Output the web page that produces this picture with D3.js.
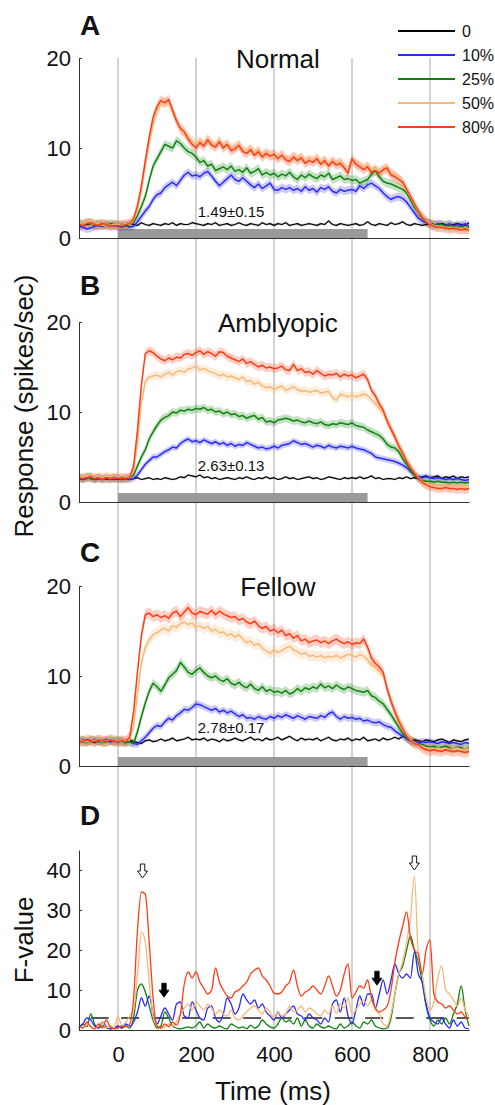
<!DOCTYPE html>
<html><head><meta charset="utf-8">
<script src="https://cdn.jsdelivr.net/npm/d3@7"></script>
<style>
body{margin:0;background:#fff}
svg{display:block}
text{font-family:Arial,"Liberation Sans",Helvetica,sans-serif;fill:#111}
</style>
</head><body>
<svg id="chart" width="495" height="1105"></svg>
<script>
// ---------------- DATA ----------------
const timeMs = d3.range(-100, 901, 10);           // sample times (ms)
const contrastLabels = ["0", "10%", "25%", "50%", "80%"];
const gridTicksMs = [0, 200, 400, 600, 800];
const stimulusMs = [0, 640];
const responseTicks = [0, 10, 20];
const fTicks = [0, 10, 20, 30, 40];
const fThreshold = 3;

// Panel A: Normal (spikes/sec)
const normal0 = [1.5,1.4,1.5,1.6,1.4,1.5,1.3,1.5,1.4,1.5, 1.4,1.5,1.3,1.6,1.5,1.4,1.7,1.5,1.4,1.6, 1.5,1.4,1.6,1.5,1.7,1.4,1.6,1.5,1.5,1.7, 1.6,1.5,1.4,1.6,1.5,1.7,1.4,1.5,1.6,1.4, 1.5,1.7,1.5,1.4,1.6,1.5,1.4,1.7,1.5,1.6, 1.4,1.6,1.5,1.7,1.4,1.5,1.6,1.4,1.5,1.6, 1.5,1.4,1.6,1.5,1.9,1.5,1.4,1.6,1.5,1.4, 1.5,1.6,1.4,1.5,1.8,1.5,1.4,1.6,1.5,1.4, 1.7,1.5,1.6,1.8,1.5,1.4,1.6,1.5,1.4,1.5, 1.6,1.5,1.4,1.6,1.5,1.4,1.5,1.6,1.5,1.4,1.7];
const normal10 = [1.3,1.2,1.0,1.1,1.3,1.4,1.3,1.5,1.3,1.4, 1.3,1.2,1.4,1.2,1.3,1.8,2.4,3.0,3.5,4.3, 4.8,5.0,5.6,5.9,6.2,5.8,6.4,7.0,7.3,6.9, 7.0,6.8,7.2,7.4,6.9,6.3,5.8,6.2,6.6,7.0, 6.5,6.3,6.7,6.3,5.9,5.6,6.0,5.5,5.8,6.1, 5.4,5.3,5.6,5.4,5.6,5.3,5.5,5.2,5.7,5.3, 5.5,5.1,5.6,5.4,5.7,5.2,5.0,5.4,5.2,5.3, 5.4,5.2,5.8,5.5,5.9,6.1,5.8,5.5,5.0,4.6, 4.3,4.5,4.6,4.4,4.0,3.4,2.8,2.2,1.9,1.7, 1.6,1.4,1.6,1.5,1.4,1.6,1.3,1.5,1.4,1.6,1.3];
const normal25 = [1.6,1.5,1.7,1.6,1.4,1.6,1.5,1.4,1.6,1.5, 1.4,1.5,1.3,1.5,1.7,2.5,3.5,4.6,6.4,8.0, 8.8,9.6,10.4,10.2,10.0,10.8,10.5,10.0,9.6,9.4, 9.0,8.4,8.6,8.0,8.2,7.5,7.7,7.9,7.6,8.0, 7.4,7.6,7.3,7.8,7.2,7.4,7.7,7.0,7.3,7.0, 7.2,6.8,7.1,6.9,7.3,6.8,6.5,7.0,6.7,7.1, 6.8,6.6,7.0,6.8,7.2,6.5,6.7,6.9,6.5,6.6, 6.4,6.5,6.1,6.3,6.5,7.1,7.5,6.8,6.3,6.1, 6.0,5.8,5.6,5.4,5.0,4.2,3.4,2.8,2.2,1.8, 1.6,1.5,1.4,1.5,1.3,1.4,1.3,1.2,1.3,1.1,1.2];
const normal50 = [1.6,1.5,1.7,1.6,1.5,1.6,1.4,1.5,1.4,1.5, 1.5,1.4,1.6,1.5,2.0,3.2,5.2,8.0,10.5,12.6, 14.0,14.9,15.2,15.0,14.0,13.2,12.0,11.6,11.2,10.8, 10.5,10.8,10.4,11.0,10.6,10.3,10.8,10.2,10.5,10.0, 10.1,10.4,9.8,9.6,10.0,9.5,9.8,9.2,9.5,9.3, 9.1,9.0,9.3,8.9,8.8,9.1,8.8,9.0,8.6,8.8, 8.6,8.9,8.4,8.7,8.2,8.6,8.3,8.5,8.1,7.9, 8.5,8.3,8.1,7.9,8.0,7.6,7.7,7.4,7.5,7.6, 7.2,7.0,6.6,6.1,5.3,4.5,3.7,2.9,2.3,1.9, 1.6,1.4,1.3,1.3,1.2,1.1,1.2,1.1,1.0,1.1,1.0];
const normal80 = [1.5,1.4,1.6,1.7,1.5,1.4,1.6,1.5,1.3,1.4, 1.4,1.3,1.5,1.6,2.1,3.6,5.8,8.6,11.2,13.4, 14.6,15.3,15.0,15.4,14.2,13.0,12.2,11.8,11.0,10.4, 10.0,10.6,10.2,10.9,10.3,10.1,10.7,10.0,10.4,9.7, 9.9,10.3,9.6,9.4,9.8,9.2,9.6,9.0,9.4,9.1, 9.3,8.8,9.2,8.7,8.5,9.0,8.6,8.9,8.3,8.6, 8.4,8.8,8.2,8.6,8.0,8.5,8.1,8.3,7.8,7.2, 8.8,8.2,7.9,7.6,7.9,7.3,7.5,7.2,7.6,7.8, 7.0,6.8,6.5,6.2,5.4,4.6,3.8,3.0,2.3,1.8, 1.5,1.3,1.2,1.2,1.1,1.0,1.1,1.0,0.9,1.0,0.9];
const normalSem = [0.15, 0.45, 0.5, 0.55, 0.55];

// Panel B: Amblyopic
const amblyopic0 = [2.6,2.5,2.7,2.6,2.5,2.6,2.7,2.5,2.6,2.6, 2.5,2.7,2.6,2.5,2.6,2.7,2.5,2.6,2.7,2.5, 2.6,2.5,2.7,2.6,2.5,2.6,2.8,2.7,3.0,2.9, 2.8,3.0,2.7,2.8,2.6,2.7,2.5,2.6,2.7,2.6, 2.5,2.7,2.6,2.8,2.6,2.5,2.7,2.6,2.8,2.6, 2.7,2.5,2.6,2.8,2.6,2.7,2.5,2.6,2.7,2.8, 2.6,2.7,2.5,2.6,2.8,2.7,2.6,2.5,2.7,2.6, 2.7,2.6,2.8,2.6,2.7,2.9,2.6,2.7,2.5,2.6, 2.6,2.5,2.7,2.6,2.8,2.6,2.7,2.6,2.8,2.9, 2.7,2.8,2.9,2.6,2.8,2.7,2.9,2.6,2.8,2.7,2.8];
const amblyopic10 = [2.6,2.5,2.6,2.7,2.5,2.6,2.5,2.7,2.6,2.5, 2.6,2.5,2.6,2.5,2.6,3.0,3.6,4.2,4.6,5.0, 5.0,5.3,5.6,5.8,6.1,6.0,6.5,6.8,7.0,6.7, 6.8,6.6,6.9,6.7,6.5,6.7,6.4,6.6,6.3,6.5, 6.2,6.4,6.3,6.6,6.4,6.2,6.0,6.1,5.9,6.0, 6.2,6.0,6.3,6.4,6.5,6.8,6.6,6.4,6.5,6.3, 6.1,6.3,6.2,6.0,6.3,6.1,6.0,6.2,6.1,6.0, 6.2,6.0,5.9,5.8,5.6,5.4,5.0,4.9,4.8,4.7, 4.6,4.5,4.3,4.1,3.8,3.4,3.0,2.8,2.7,2.8, 2.7,2.6,2.7,2.6,2.5,2.6,2.5,2.6,2.5,2.4,2.5];
const amblyopic25 = [2.7,2.6,2.8,2.6,2.5,2.7,2.6,2.6,2.5,2.7, 2.6,2.5,2.6,2.7,3.0,4.0,5.0,5.8,7.0,7.8, 8.5,9.1,9.4,9.6,10.0,9.9,10.2,10.1,10.3,10.2, 10.4,10.3,10.5,10.2,10.3,10.0,10.1,9.8,10.0,9.7, 9.8,9.5,9.6,9.3,9.5,9.6,9.2,9.4,8.9,9.0, 8.8,9.1,9.2,9.3,9.2,9.0,9.1,8.9,8.8,9.0, 8.8,8.7,8.9,8.6,8.5,8.7,8.6,8.8,8.7,8.6, 8.8,8.5,8.4,8.3,8.0,7.8,7.6,7.4,7.0,6.4, 6.1,6.0,5.6,4.8,4.2,3.5,3.0,2.6,2.4,2.3, 2.3,2.2,2.3,2.2,2.2,2.1,2.2,2.1,2.2,2.1,2.2];
const amblyopic50 = [2.8,2.7,2.9,2.8,2.7,2.8,2.7,2.9,2.8,2.7, 2.8,2.7,2.8,2.7,3.5,6.5,11.0,13.4,13.9,14.0, 14.1,13.9,14.2,14.4,14.1,14.5,14.6,14.4,14.8,14.9, 15.1,14.7,14.8,14.6,14.4,14.3,14.0,14.2,13.9,14.0, 13.8,13.6,13.9,13.4,13.5,13.1,13.3,12.9,12.7,12.8, 12.5,12.7,12.9,12.4,12.6,12.8,12.5,12.3,12.4,12.2, 12.3,12.4,12.1,12.2,12.3,11.6,11.3,12.0,11.8,11.7, 11.9,11.7,11.8,12.0,11.8,11.4,10.9,10.4,9.9,9.0, 8.2,7.3,6.4,5.6,4.7,3.9,3.3,2.7,2.3,2.0, 1.9,1.8,1.8,1.7,1.8,1.7,1.8,1.7,1.8,1.7,1.8];
const amblyopic80 = [2.7,2.6,2.7,2.8,2.6,2.7,2.5,2.7,2.6,2.7, 2.6,2.7,2.6,2.7,4.0,8.0,13.0,16.5,16.8,16.6, 16.2,15.9,15.7,16.0,15.8,16.1,16.0,16.4,16.5,16.3, 16.6,16.8,16.4,16.7,16.5,16.2,16.7,16.6,16.2,16.0, 15.8,15.6,15.9,15.4,15.6,15.3,15.0,15.2,14.9,15.0, 14.8,14.9,15.1,14.7,14.6,15.3,14.6,14.8,14.4,14.5, 14.2,14.6,14.3,14.0,14.2,14.1,14.3,13.9,14.2,14.0, 14.1,13.8,14.0,14.2,13.6,12.4,11.8,10.9,10.2,9.0, 8.1,7.2,6.2,5.4,4.5,3.8,3.2,2.6,2.2,1.9, 1.7,1.6,1.5,1.5,1.6,1.5,1.5,1.4,1.5,1.4,1.5];
const amblyopicSem = [0.12, 0.35, 0.45, 0.5, 0.5];

// Panel C: Fellow
const fellow0 = [2.8,2.7,2.9,2.8,2.6,2.8,2.7,2.9,2.7,2.8, 2.7,2.8,2.6,2.9,2.7,2.6,2.5,2.8,2.9,2.7, 2.8,3.0,2.8,2.9,3.1,2.8,2.9,3.0,3.2,2.9, 3.0,2.9,3.1,2.8,3.0,2.9,2.7,3.0,2.8,2.9, 3.1,2.9,2.8,3.0,3.2,2.9,3.0,2.8,3.1,2.9, 3.0,3.2,2.9,3.1,3.3,3.0,2.8,3.1,2.9,3.0, 2.9,3.1,2.8,3.0,3.2,2.9,2.8,3.0,2.9,3.1, 2.8,3.0,2.9,3.2,2.8,2.9,3.0,2.8,3.1,2.9, 3.0,3.2,3.0,3.3,3.1,2.8,2.9,2.8,2.7,2.9, 2.8,2.7,2.9,3.0,2.8,2.6,2.9,2.8,2.7,2.9,3.0];
const fellow10 = [2.8,2.9,2.7,2.8,2.9,2.7,2.8,2.9,2.7,2.8, 2.7,2.8,2.6,2.7,2.5,2.4,2.8,3.2,3.7,4.2, 4.5,4.4,4.9,5.3,5.1,5.6,5.9,6.3,6.2,6.5, 6.9,6.8,6.6,6.4,6.2,6.4,6.0,6.2,5.9,6.1, 5.8,5.5,5.7,5.3,5.4,5.2,5.5,5.3,5.2,5.5, 5.3,5.6,5.4,5.7,5.5,5.3,5.6,5.4,5.2,5.5, 5.4,5.3,5.6,5.4,5.8,6.0,5.5,5.2,5.5,5.3, 5.4,5.2,5.3,5.0,5.1,4.9,4.8,4.9,4.6,4.4, 4.3,3.9,3.6,3.3,3.0,2.8,2.7,2.6,2.7,2.6, 2.7,2.6,2.5,2.7,2.6,2.5,2.6,2.5,2.4,2.6,2.5];
const fellow25 = [2.7,2.8,2.6,2.9,2.7,2.8,2.6,2.7,2.9,2.7, 2.8,2.7,2.6,2.7,2.5,3.8,5.5,7.0,8.3,9.2, 8.8,8.3,9.0,9.8,10.2,10.6,11.5,11.0,10.4,10.2, 10.6,10.9,10.4,10.0,9.8,10.0,9.6,9.4,9.7,9.2, 9.0,9.3,8.9,8.7,9.1,8.6,8.4,8.8,8.3,8.5, 8.2,8.3,8.1,8.4,8.0,8.2,8.6,8.3,8.7,8.5, 8.8,8.6,9.1,8.7,8.9,8.6,9.0,8.7,8.5,8.8, 8.6,8.4,8.3,8.2,8.4,7.8,7.6,7.2,6.9,6.3, 5.7,5.0,4.3,3.6,3.1,2.8,2.6,2.5,2.4,2.2, 2.1,2.2,2.0,2.1,2.2,2.0,1.9,2.1,2.0,1.9,2.0];
const fellow50 = [2.9,2.8,2.7,2.9,2.8,2.9,2.7,2.8,2.9,2.8, 2.8,2.7,2.8,2.9,4.5,8.0,11.5,13.2,14.0,14.6, 14.8,15.1,15.3,15.0,15.6,15.4,15.8,16.0,15.7,15.9, 15.4,15.6,15.3,15.5,15.0,15.2,14.8,14.9,14.5,14.7, 14.3,14.6,14.1,13.7,13.9,13.4,13.6,13.1,12.8,12.5, 12.9,12.6,12.8,13.1,13.3,12.9,12.7,12.4,12.6,12.2, 12.3,12.1,12.3,12.0,12.2,12.1,12.3,12.0,12.2,12.4, 12.3,12.1,12.4,12.2,11.8,11.2,10.9,10.5,10.1,8.6, 7.3,6.1,5.1,4.2,3.4,2.9,2.6,2.4,2.2,2.0, 2.0,1.9,2.0,1.9,2.0,1.8,1.9,2.0,1.8,1.9,1.9];
const fellow80 = [2.8,2.7,2.9,2.8,2.7,2.9,2.8,2.7,2.9,2.8, 2.7,2.8,2.7,3.2,6.0,10.5,14.5,16.8,17.0,16.6, 16.8,16.5,16.7,16.4,17.0,17.2,16.6,17.1,17.6,17.0, 16.8,17.2,17.0,16.9,17.3,16.8,17.2,16.9,16.7,16.5, 16.6,16.2,16.4,16.0,15.8,16.1,15.6,15.3,15.5,15.0, 15.2,14.8,15.1,14.5,14.7,14.2,14.5,13.9,14.1,13.7, 13.9,14.0,13.7,13.9,13.6,13.9,14.1,13.8,13.6,13.8, 13.5,13.7,13.6,14.1,13.2,12.0,11.4,11.0,10.4,8.6, 7.2,6.0,5.0,4.1,3.3,2.8,2.5,2.4,2.0,1.8, 1.7,1.8,1.7,1.6,1.8,1.7,1.6,1.7,1.6,1.5,1.6];
const fellowSem = [0.15, 0.4, 0.5, 0.6, 0.6];

// Panel D: F-values (10%, 25%, 50%, 80%)
const fValue10 = [0.5,1.5,3.0,2.5,1.0,0.5,2.0,0.8,0.3,0.5, 1.0,0.5,1.5,1.0,2.0,4.5,8.0,6.0,8.5,4.0, 1.5,3.5,5.5,4.0,2.5,6.5,7.0,3.5,3.0,7.0, 5.0,3.0,2.5,5.5,6.0,3.0,2.0,4.0,8.0,6.5, 4.0,5.5,9.0,7.5,6.5,7.5,5.5,6.5,4.5,3.5, 2.5,4.5,3.0,4.0,5.0,6.0,4.0,3.5,2.5,4.0, 3.0,2.5,1.5,3.0,2.0,6.5,7.5,4.5,8.0,3.5, 1.5,5.0,8.5,6.0,9.0,9.0,5.5,9.0,12.5,9.0, 12.5,16.5,14.0,13.0,14.0,13.0,19.5,14.0,12.0,6.5, 3.0,2.0,1.5,3.0,1.5,0.5,2.5,1.0,2.0,0.5,0.3];
const fValue25 = [0.5,1.5,0.8,4.0,1.5,0.5,1.0,0.5,0.3,0.5, 0.8,0.5,1.0,0.5,3.0,10.0,11.5,9.5,6.0,2.5, 0.5,1.0,4.5,3.0,1.0,0.5,0.3,0.5,0.8,0.5, 1.0,2.0,0.5,1.5,0.8,0.5,1.0,0.5,0.3,1.5, 1.0,0.5,0.8,0.3,1.2,0.5,1.0,2.5,1.5,0.8, 0.5,1.5,3.0,2.0,2.5,1.5,3.0,1.0,2.5,1.0, 0.5,1.5,0.8,0.5,1.0,0.5,0.3,1.5,0.5,1.0, 2.0,1.0,0.5,2.0,1.5,2.5,1.0,0.5,0.3,0.5, 3.0,9.0,14.0,16.0,20.0,23.5,20.0,17.0,12.0,6.0, 2.5,1.0,2.5,1.5,3.0,1.5,4.0,6.5,11.0,5.0,1.0];
const fValue50 = [1.0,0.5,1.5,0.8,0.3,1.0,2.0,0.5,1.0,0.5, 3.5,1.0,2.0,3.5,5.0,14.0,24.5,22.0,12.0,3.5, 1.0,0.5,0.8,1.5,1.0,2.0,4.0,5.5,6.5,5.0, 7.0,6.0,5.0,6.5,5.5,4.0,5.0,4.0,3.5,5.0, 3.0,2.5,3.5,4.5,5.5,6.0,5.0,4.0,5.5,4.5, 3.0,4.5,3.5,4.0,6.0,4.5,5.0,6.0,4.5,5.5, 5.0,4.0,3.5,5.0,4.0,6.0,4.2,6.5,5.5,8.0, 4.0,5.0,6.5,7.5,6.0,7.5,5.0,4.0,1.5,1.0, 4.0,9.0,14.0,17.0,22.0,28.0,38.5,19.0,14.0,8.0, 5.0,7.0,13.0,16.0,10.0,9.0,7.5,6.0,8.0,5.0,3.5];
const fValue80 = [1.0,0.5,2.0,0.8,0.3,1.5,0.5,2.5,0.8,0.3, 0.5,1.0,0.8,1.5,8.0,25.0,34.5,34.0,22.0,8.0, 1.0,0.5,1.5,0.8,2.0,1.2,4.0,11.5,14.5,13.0, 14.5,12.0,10.5,9.0,10.0,15.5,12.0,10.0,8.5,8.0, 9.5,10.0,11.0,12.0,14.0,15.0,15.5,13.5,12.5,11.0, 9.2,9.0,9.5,11.0,12.0,15.0,11.0,8.5,9.5,10.0, 11.0,10.0,9.0,11.0,13.5,11.0,8.5,10.0,14.0,16.5, 8.0,9.5,11.0,10.5,12.5,8.0,5.5,4.5,5.0,6.0, 10.0,17.0,22.0,26.0,29.5,23.0,20.0,19.0,14.0,20.0, 22.5,9.0,7.0,6.5,5.5,6.0,5.0,4.0,4.5,3.3,3.0];

// annotation arrows in panel D: [time ms, tip F-value, filled]
const arrowTimes = [63, 118, 664, 760];
const arrowTipF = [38, 8.2, 11.2, 40];
const arrowFilled = [false, true, true, false];

const seriesColors = ["#000000", "#2b2bff", "#108210", "#f8b878", "#ff3c14"];

// ---------------- DRAWING ----------------
const svg = d3.select("#chart");
const FONT = 'Arial,"Liberation Sans",Helvetica,sans-serif';
const x = d3.scaleLinear().domain([-100, 900]).range([79, 469]);

const panels = [
  {letter: "A", title: "Normal", top: 58, bottom: 238, letterY: 35, stat: "1.49±0.15", statV: 2.3,
   series: [normal0, normal10, normal25, normal50, normal80], sem: normalSem},
  {letter: "B", title: "Amblyopic", top: 322, bottom: 502, letterY: 295, stat: "2.63±0.13", statV: 3.45,
   series: [amblyopic0, amblyopic10, amblyopic25, amblyopic50, amblyopic80], sem: amblyopicSem},
  {letter: "C", title: "Fellow", top: 586, bottom: 766, letterY: 562, stat: "2.78±0.17", statV: 3.65,
   series: [fellow0, fellow10, fellow25, fellow50, fellow80], sem: fellowSem}
];

// vertical grid lines spanning all panels
svg.append("g").selectAll("line").data(gridTicksMs).join("line")
  .attr("x1", d => x(d)).attr("x2", d => x(d))
  .attr("y1", 58).attr("y2", 1030)
  .attr("stroke", "#c4c4c4").attr("stroke-width", 1.5);

panels.forEach(p => {
  const y = d3.scaleLinear().domain([0, 20]).range([p.bottom, p.top]);
  const g = svg.append("g");

  // stimulus bar
  g.append("rect")
    .attr("x", x(stimulusMs[0])).attr("width", x(stimulusMs[1]) - x(stimulusMs[0]))
    .attr("y", y(0) - 9).attr("height", 9).attr("fill", "#9a9a9a");

  // bands and lines
  p.series.forEach((vals, si) => {
    const pts = vals.map((v, i) => [timeMs[i], v]);
    const s = p.sem[si];
    g.append("path").datum(pts)
      .attr("d", d3.area().x(d => x(d[0])).y0(d => y(d[1] - s)).y1(d => y(d[1] + s)))
      .attr("fill", seriesColors[si]).attr("fill-opacity", si === 0 ? 0.18 : 0.25);
  });
  p.series.forEach((vals, si) => {
    const pts = vals.map((v, i) => [timeMs[i], v]);
    g.append("path").datum(pts)
      .attr("d", d3.line().x(d => x(d[0])).y(d => y(d[1])))
      .attr("fill", "none").attr("stroke", seriesColors[si])
      .attr("stroke-width", si === 0 ? 1.2 : 1.5).attr("stroke-linejoin", "round");
  });

  // axes
  const ya = g.append("g").attr("transform", `translate(${x(-100)},0)`)
    .call(d3.axisLeft(y).tickValues(responseTicks).tickSizeInner(-3).tickSizeOuter(0).tickPadding(8));
  ya.selectAll("text").attr("font-size", 22).attr("font-family", FONT).attr("fill", "#111");
  ya.selectAll("line,path").attr("stroke", "#333");
  const xa = g.append("g").attr("transform", `translate(0,${y(0)})`)
    .call(d3.axisBottom(x).tickValues([]).tickSizeOuter(0));
  xa.select("path").attr("stroke", "#333");

  // texts
  g.append("text").attr("x", 80).attr("y", p.letterY).attr("font-size", 28)
    .attr("font-weight", "bold").text(p.letter);
  g.append("text").attr("x", x(410)).attr("y", p.top + 10).attr("text-anchor", "middle")
    .attr("font-size", 26).text(p.title);
  g.append("text").attr("x", x(290)).attr("y", y(p.statV)).attr("text-anchor", "middle")
    .attr("font-size", 15).text(p.stat);
});

// ---- Panel D ----
const yD = d3.scaleLinear().domain([0, 45]).range([1030, 850]);
const gD = svg.append("g");
const dSeries = [fValue10, fValue25, fValue50, fValue80];
const dColors = seriesColors.slice(1);

gD.append("line").attr("x1", x(-70)).attr("x2", x(900))
  .attr("y1", yD(fThreshold)).attr("y2", yD(fThreshold))
  .attr("stroke", "#222").attr("stroke-width", 1.5).attr("stroke-dasharray", "18,12.5");

[1, 0, 2, 3].forEach(si => {
  const pts = dSeries[si].map((v, i) => [timeMs[i], v]);
  gD.append("path").datum(pts)
    .attr("d", d3.line().x(d => x(d[0])).y(d => yD(d[1])).curve(d3.curveMonotoneX))
    .attr("fill", "none").attr("stroke", dColors[si]).attr("stroke-width", 1.3);
});

const yaD = gD.append("g").attr("transform", `translate(${x(-100)},0)`)
  .call(d3.axisLeft(yD).tickValues(fTicks).tickSizeInner(-3).tickSizeOuter(0).tickPadding(8));
yaD.selectAll("text").attr("font-size", 22).attr("font-family", FONT).attr("fill", "#111");
yaD.selectAll("line,path").attr("stroke", "#333");
const xaD = gD.append("g").attr("transform", `translate(0,${yD(0)})`)
  .call(d3.axisBottom(x).tickValues(gridTicksMs).tickSize(0).tickSizeOuter(0).tickPadding(16));
xaD.selectAll("text").attr("font-size", 22).attr("font-family", FONT).attr("fill", "#111");
xaD.select("path").attr("stroke", "#333");

// arrows
arrowTimes.forEach((t, i) => {
  const cx = x(t), tip = yD(arrowTipF[i]), h = 14;
  const top = tip - h;
  const path = `M${cx-2.2},${top} L${cx+2.2},${top} L${cx+2.2},${top+7} L${cx+5},${top+7} L${cx},${tip} L${cx-5},${top+7} L${cx-2.2},${top+7} Z`;
  gD.append("path").attr("d", path)
    .attr("fill", arrowFilled[i] ? "#000" : "#fff")
    .attr("stroke", "#000").attr("stroke-width", arrowFilled[i] ? 0.8 : 0.9);
});

gD.append("text").attr("x", 80).attr("y", 825).attr("font-size", 28)
  .attr("font-weight", "bold").text("D");

// axis titles
svg.append("text").attr("transform", "translate(33,406) rotate(-90)")
  .attr("text-anchor", "middle").attr("font-size", 26).text("Response (spikes/sec)");
svg.append("text").attr("transform", "translate(33,940) rotate(-90)")
  .attr("text-anchor", "middle").attr("font-size", 26).text("F-value");
svg.append("text").attr("x", 273).attr("y", 1100)
  .attr("text-anchor", "middle").attr("font-size", 26).text("Time (ms)");

// legend
const leg = svg.append("g");
contrastLabels.forEach((lab, i) => {
  const ly = 31 + i * 24;
  leg.append("line").attr("x1", 398).attr("x2", 455).attr("y1", ly).attr("y2", ly)
    .attr("stroke", seriesColors[i]).attr("stroke-width", 1.8);
  leg.append("text").attr("x", 462).attr("y", ly).attr("dy", "0.36em")
    .attr("font-size", 16).text(lab);
});
</script>
</body></html>
